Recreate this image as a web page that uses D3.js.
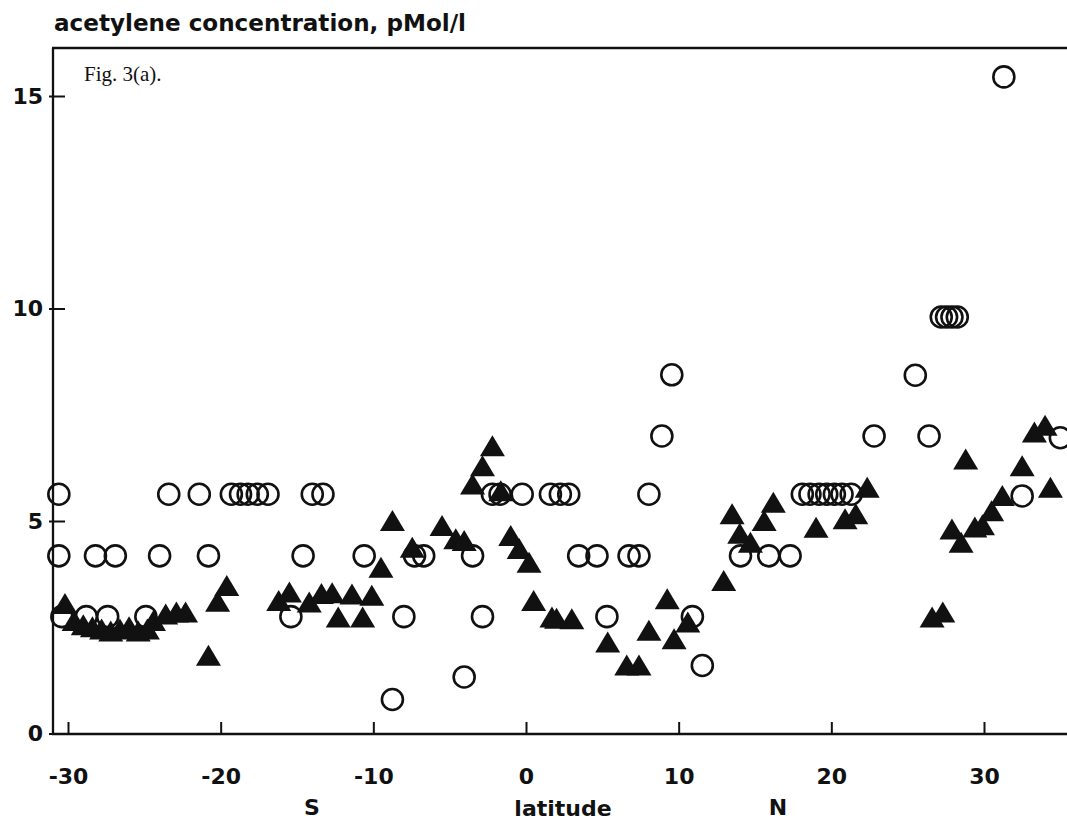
<!DOCTYPE html>
<html>
<head>
<meta charset="utf-8">
<script src="https://cdn.jsdelivr.net/npm/d3@7"></script>
<style>
  html, body { margin: 0; padding: 0; background: #fff; }
  svg { display: block; }
  .bold { font-family: "DejaVu Sans", "Liberation Sans", Arial, sans-serif; font-weight: bold; fill: #111; }
</style>
</head>
<body>
<svg id="chart" width="1067" height="821"></svg>
<script>
// Open circles: latitude and acetylene concentration (pMol/l)
const circleLat = [
  -30.6, -23.4, -21.4, -19.3, -18.7, -18.2, -17.6, -16.9, -14.0, -13.3,
  -2.2, -1.7, -0.25, 1.6, 2.25, 2.8, 8.05,
  18.1, 18.6, 19.2, 19.7, 20.2, 20.7, 21.3, 32.5,
  -30.6, -28.2, -26.9, -24.0, -20.8, -14.6, -10.6, -7.3, -6.7, -3.5,
  3.45, 4.65, 6.75, 7.4, 14.05, 15.9, 17.3,
  -30.4, -28.8, -27.4, -24.9, -15.4, -8.0, -2.85, 5.3, 10.9,
  -8.75, -4.05, 11.55, 8.9, 9.55, 22.8, 25.5, 26.4,
  27.2, 27.55, 27.9, 28.25, 31.3, 35.0
];
const circleVal = [
  5.63, 5.63, 5.63, 5.63, 5.63, 5.63, 5.63, 5.63, 5.63, 5.63,
  5.63, 5.63, 5.63, 5.63, 5.63, 5.63, 5.63,
  5.63, 5.63, 5.63, 5.63, 5.63, 5.63, 5.63, 5.59,
  4.18, 4.18, 4.18, 4.18, 4.18, 4.18, 4.18, 4.18, 4.18, 4.18,
  4.18, 4.18, 4.18, 4.18, 4.18, 4.18, 4.18,
  2.75, 2.75, 2.75, 2.75, 2.75, 2.75, 2.75, 2.75, 2.75,
  0.8, 1.33, 1.6, 7.0, 8.44, 7.0, 8.43, 7.0,
  9.8, 9.8, 9.8, 9.8, 15.45, 6.96
];

// Filled triangles: latitude and concentration
const triLat = [
  -30.2, -29.6, -29.0, -28.4, -27.8, -27.2, -26.6, -26.0, -25.4, -24.8, -24.4, -23.6, -22.9, -22.3,
  -20.8, -20.2, -19.6,
  -16.2, -15.5, -14.2, -13.4, -12.7, -12.3, -11.4, -10.7, -10.1,
  -9.5, -8.75, -7.45, -5.5, -4.6, -4.05,
  -3.5, -2.85, -2.2, -1.65,
  -1.0, -0.45, 0.2, 0.5,
  1.7, 2.0, 3.0,
  5.35, 6.6, 7.4, 8.05, 9.25, 9.7, 10.6,
  12.95, 13.5, 14.0, 14.7, 15.6, 16.2,
  19.0, 20.9, 21.6, 22.35,
  26.6, 27.3, 27.9, 28.5, 28.8, 29.4, 29.9, 30.5, 31.2, 32.5, 33.3, 34.0, 34.35
];
const triVal = [
  3.05, 2.65, 2.55, 2.5, 2.45, 2.4, 2.45, 2.5, 2.4, 2.45, 2.65, 2.8, 2.85, 2.85,
  1.83, 3.1, 3.47,
  3.12, 3.32, 3.08, 3.28, 3.3, 2.73, 3.27, 2.73, 3.24,
  3.9, 5.0, 4.37, 4.88, 4.57, 4.53,
  5.86, 6.29, 6.76, 5.7,
  4.65, 4.34, 4.02, 3.12,
  2.73, 2.7, 2.69,
  2.14, 1.6, 1.6, 2.42, 3.16, 2.22, 2.61,
  3.59, 5.16, 4.7, 4.49, 5.0, 5.43,
  4.84, 5.04, 5.16, 5.78,
  2.73, 2.85, 4.8, 4.49, 6.45, 4.85, 4.9, 5.23, 5.59, 6.29, 7.08, 7.24, 5.78
];

const xTicks = [-30, -20, -10, 0, 10, 20, 30];
const yTicks = [0, 5, 10, 15];

const svg = d3.select("#chart");
const W = 1067;
const frameLeft = 53, frameTop = 48, frameBottom = 734;

const x = d3.scaleLinear().domain([-30, 30]).range([68, 984]);
const y = d3.scaleLinear().domain([0, 15]).range([733.5, 96]);

// title
svg.append("text").attr("class", "bold")
  .attr("x", 54).attr("y", 31)
  .attr("font-size", 23)
  .attr("textLength", 412).attr("lengthAdjust", "spacingAndGlyphs")
  .text("acetylene concentration, pMol/l");

// frame: left spine, top line, bottom axis line
const frame = svg.append("g").attr("stroke", "#111").attr("stroke-width", 2.3).attr("fill", "none");
frame.append("line").attr("x1", frameLeft).attr("x2", frameLeft).attr("y1", frameTop).attr("y2", frameBottom + 1);
frame.append("line").attr("x1", frameLeft - 1).attr("x2", W).attr("y1", frameTop).attr("y2", frameTop);
frame.append("line").attr("x1", frameLeft - 1).attr("x2", W).attr("y1", frameBottom).attr("y2", frameBottom);

// x axis: short inward ticks and bold labels
const xAxis = d3.axisBottom(x).tickValues(xTicks).tickSize(-12).tickPadding(34)
  .tickFormat(d => d3.format("d")(d).replace("\u2212", "-"));
const gx = svg.append("g").attr("transform", `translate(0,${frameBottom})`).call(xAxis);
gx.select(".domain").remove();
gx.selectAll(".tick line").attr("stroke", "#111").attr("stroke-width", 2);
gx.selectAll(".tick text").attr("class", "bold").attr("font-size", 22);

// y axis: inward ticks with a small outward stub
const yAxis = d3.axisLeft(y).tickValues(yTicks).tickSizeInner(4).tickSizeOuter(0).tickPadding(6);
const gy = svg.append("g").attr("transform", `translate(${frameLeft},0)`).call(yAxis);
gy.select(".domain").remove();
gy.selectAll(".tick line").attr("stroke", "#111").attr("stroke-width", 2).attr("x2", 12).attr("x1", -4);
gy.selectAll(".tick text").attr("class", "bold").attr("font-size", 22);

// axis captions
const cap = svg.append("g").attr("class", "bold").attr("font-size", 22).attr("text-anchor", "middle");
cap.append("text").attr("x", 312).attr("y", 815).text("S");
cap.append("text").attr("x", 563).attr("y", 816).text("latitude");
cap.append("text").attr("x", 778).attr("y", 815).text("N");

// panel label
svg.append("text")
  .attr("x", 84).attr("y", 81)
  .attr("font-family", "'Liberation Serif', 'Times New Roman', serif")
  .attr("font-size", 21).attr("fill", "#111")
  .text("Fig. 3(a).");

// markers
const plot = svg.append("g");
const circles = circleLat.map((d, i) => ({ lat: d, v: circleVal[i] }));
const tris = triLat.map((d, i) => ({ lat: d, v: triVal[i] }));

plot.selectAll("circle.obs").data(circles).join("circle")
  .attr("class", "obs")
  .attr("cx", d => x(d.lat)).attr("cy", d => y(d.v))
  .attr("r", 10.5)
  .attr("fill", "none").attr("stroke", "#111").attr("stroke-width", 2.6);

const triPath = d3.line()([[-12.5, 10], [0, -11], [12.5, 10]]) + "Z";
plot.selectAll("path.tri").data(tris).join("path")
  .attr("class", "tri")
  .attr("d", triPath)
  .attr("transform", d => `translate(${x(d.lat)},${y(d.v)})`)
  .attr("fill", "#111");
</script>
</body>
</html>
